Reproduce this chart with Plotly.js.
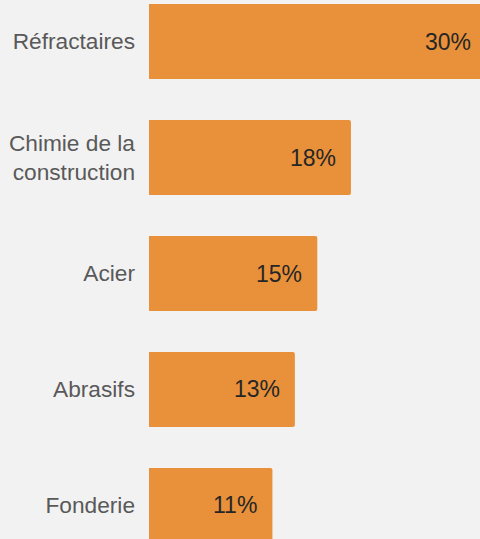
<!DOCTYPE html>
<html>
<head>
<meta charset="utf-8">
<script src="https://cdn.plot.ly/plotly-3.0.1.min.js"></script>
<style>
html,body{margin:0;padding:0;background:#f2f2f2;overflow:hidden;}
#wrap{width:480px;height:539px;overflow:hidden;}
#chart{width:492px;height:539px;}
</style>
</head>
<body>
<div id="wrap"><div id="chart"></div></div>
<script>
const categories = ["Réfractaires", "Chimie de la<br>construction", "Acier", "Abrasifs", "Fonderie"];
const values = [30, 18, 15, 13, 11];
const valueLabels = ["30%", "18%", "15%", "13%", "11%"];

const FONT = "Liberation Sans, Arial, sans-serif";

const trace = {
  type: "bar",
  orientation: "h",
  x: values,
  y: categories,
  width: 0.647,
  marker: {color: "#E8913A", line: {width: 0}},
  hoverinfo: "none"
};

const annotations = values.map((v, i) => ({
  x: v, y: categories[i], xref: "x", yref: "y",
  text: valueLabels[i], showarrow: false,
  xanchor: "right", yanchor: "middle", xshift: -13,
  font: {family: FONT, size: 23, color: "#262626"}
}));

const layout = {
  width: 492, height: 539,
  margin: {l: 149, r: 0, t: 0, b: 0, pad: 0},
  paper_bgcolor: "#f2f2f2",
  plot_bgcolor: "#f2f2f2",
  showlegend: false,
  barcornerradius: 2,
  xaxis: {range: [0, 30.57], showgrid: false, zeroline: false, showticklabels: false, showline: false, fixedrange: true},
  yaxis: {
    type: "category",
    range: [4.289, -0.358],
    showgrid: false, zeroline: false, showline: false,
    ticks: "", ticklabelstandoff: 13,
    tickfont: {family: FONT, size: 22.7, color: "#595959"}
  },
  annotations: annotations
};

Plotly.newPlot("chart", [trace], layout, {displayModeBar: false, staticPlot: true});
</script>
</body>
</html>
